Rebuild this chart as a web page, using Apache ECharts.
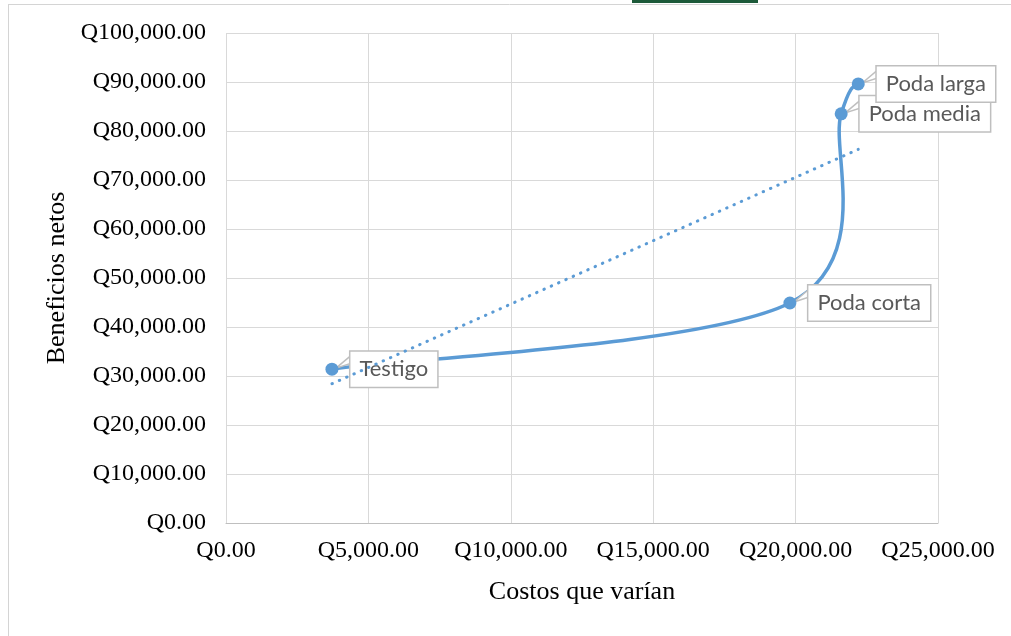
<!DOCTYPE html>
<html>
<head>
<meta charset="utf-8">
<script src="https://cdn.jsdelivr.net/npm/echarts@6/dist/echarts.min.js"></script>
<style>
  html, body { margin: 0; padding: 0; background: #ffffff; }
  #chart { width: 1011px; height: 636px; }
</style>
</head>
<body>
<div id="chart"></div>
<script>
// Treatments, their varying costs and net benefits (quetzales)
const treatments = ['Testigo', 'Poda corta', 'Poda media', 'Poda larga'];
const costs = [3720, 19800, 21600, 22200];
const benefits = [31400, 44900, 83500, 89600];

// Axis ranges
const xMax = 25000, xStep = 5000;
const yMax = 100000, yStep = 10000;

// Linear trend line fitted to the points (least squares)
function linearFit(xs, ys) {
  const n = xs.length;
  const mx = xs.reduce((a, b) => a + b, 0) / n;
  const my = ys.reduce((a, b) => a + b, 0) / n;
  let sxy = 0, sxx = 0;
  for (let i = 0; i < n; i++) {
    sxy += (xs[i] - mx) * (ys[i] - my);
    sxx += (xs[i] - mx) * (xs[i] - mx);
  }
  const slope = sxy / sxx;
  return { slope, intercept: my - slope * mx };
}
const fit = linearFit(costs, benefits);
const xMin = Math.min(...costs), xMaxData = Math.max(...costs);
const trend = [
  [xMin, fit.intercept + fit.slope * xMin],
  [xMaxData, fit.intercept + fit.slope * xMaxData]
];

function money(v) {
  return 'Q' + Number(v).toLocaleString('en-US', { minimumFractionDigits: 2, maximumFractionDigits: 2 });
}

const points = treatments.map((name, i) => ({ name, value: [costs[i], benefits[i]] }));

const blue = '#5b9bd5';
const serif = '"Liberation Serif", "Times New Roman", serif';
const labelGap = 12;     // gap between marker edge and callout box
const markerSize = 13;

// Smoothed connecting curve: cubic Bezier segments with Catmull-Rom style
// control points (tangent = (next - prev) / 6), computed in pixel space.
// Each item also gets the small wedge that ties its callout box to the marker.
function renderCurveAndPointers(params, api) {
  const children = [];
  if (params.dataIndex === 0) {
    const p = costs.map((c, i) => api.coord([c, benefits[i]]));
    const n = p.length;
    const at = (i) => p[Math.max(0, Math.min(n - 1, i))];
    let d = 'M' + p[0][0] + ' ' + p[0][1];
    for (let i = 0; i < n - 1; i++) {
      const p0 = at(i - 1), p1 = at(i), p2 = at(i + 1), p3 = at(i + 2);
      const c1 = [p1[0] + (p2[0] - p0[0]) / 6, p1[1] + (p2[1] - p0[1]) / 6];
      const c2 = [p2[0] - (p3[0] - p1[0]) / 6, p2[1] - (p3[1] - p1[1]) / 6];
      d += ' C' + c1[0] + ' ' + c1[1] + ' ' + c2[0] + ' ' + c2[1] + ' ' + p2[0] + ' ' + p2[1];
    }
    children.push({
      type: 'path',
      shape: { pathData: d },
      style: { fill: 'none', stroke: blue, lineWidth: 3.5, lineCap: 'round', lineJoin: 'round' },
      z2: 1
    });
  }
  const c = api.coord([api.value(0), api.value(1)]);
  const boxLeft = c[0] + markerSize / 2 + labelGap + 1;
  children.push({
    type: 'polygon',
    shape: { points: [[c[0] + 4, c[1] - 1], [boxLeft, c[1] - 14], [boxLeft, c[1] - 6]] },
    style: { fill: '#ffffff', stroke: '#bfbfbf', lineWidth: 1.5, lineJoin: 'miter' },
    z2: 2
  });
  return { type: 'group', children };
}

const chart = echarts.init(document.getElementById('chart'), null, { renderer: 'canvas' });
chart.setOption({
  backgroundColor: '#ffffff',
  animation: false,
  grid: { left: 226, right: 73, top: 33, bottom: 113 },
  xAxis: {
    type: 'value', min: 0, max: xMax, interval: xStep,
    name: 'Costos que varían', nameLocation: 'middle', nameGap: 56,
    nameTextStyle: { fontFamily: serif, fontSize: 26, color: '#000' },
    axisLine: { show: true, lineStyle: { color: '#bfbfbf', width: 1 } },
    axisTick: { show: false },
    axisLabel: { formatter: money, fontFamily: serif, fontSize: 24, color: '#000', margin: 16 },
    splitLine: { show: true, lineStyle: { color: '#d9d9d9', width: 1 } }
  },
  yAxis: {
    type: 'value', min: 0, max: yMax, interval: yStep,
    name: 'Beneficios netos', nameLocation: 'middle', nameGap: 152, nameRotate: 90,
    nameTextStyle: { fontFamily: serif, fontSize: 26, color: '#000' },
    axisLine: { show: false },
    axisTick: { show: false },
    axisLabel: { formatter: money, fontFamily: serif, fontSize: 24, color: '#000', margin: 20 },
    splitLine: { show: true, lineStyle: { color: '#d9d9d9', width: 1 } }
  },
  series: [
    {
      type: 'custom',
      data: points,
      renderItem: renderCurveAndPointers,
      silent: true,
      z: 2
    },
    {
      type: 'scatter',
      data: points,
      symbol: 'circle',
      symbolSize: markerSize,
      itemStyle: { color: blue, opacity: 1 },
      label: {
        show: true,
        position: 'right',
        distance: labelGap,
        formatter: '{b}',
        fontFamily: 'Lato, "Open Sans", sans-serif',
        fontSize: 22,
        color: '#595959',
        opacity: 1,
        backgroundColor: '#ffffff',
        borderColor: '#bfbfbf',
        borderWidth: 1.5,
        padding: [7, 9, 6, 9]
      },
      z: 3
    },
    {
      type: 'line',
      data: trend,
      showSymbol: false,
      lineStyle: { color: blue, width: 3, type: [0.5, 7.5], cap: 'round' },
      z: 4
    }
  ],
  graphic: [
    { type: 'line', shape: { x1: 8.5, y1: 4, x2: 8.5, y2: 636 }, style: { stroke: '#d4d4d4', lineWidth: 1 } },
    { type: 'line', shape: { x1: 8, y1: 4.5, x2: 1011, y2: 4.5 }, style: { stroke: '#d4d4d4', lineWidth: 1 } },
    { type: 'rect', shape: { x: 632, y: 0, width: 126, height: 3 }, style: { fill: '#1d5a3a' } }
  ]
});
</script>
</body>
</html>
